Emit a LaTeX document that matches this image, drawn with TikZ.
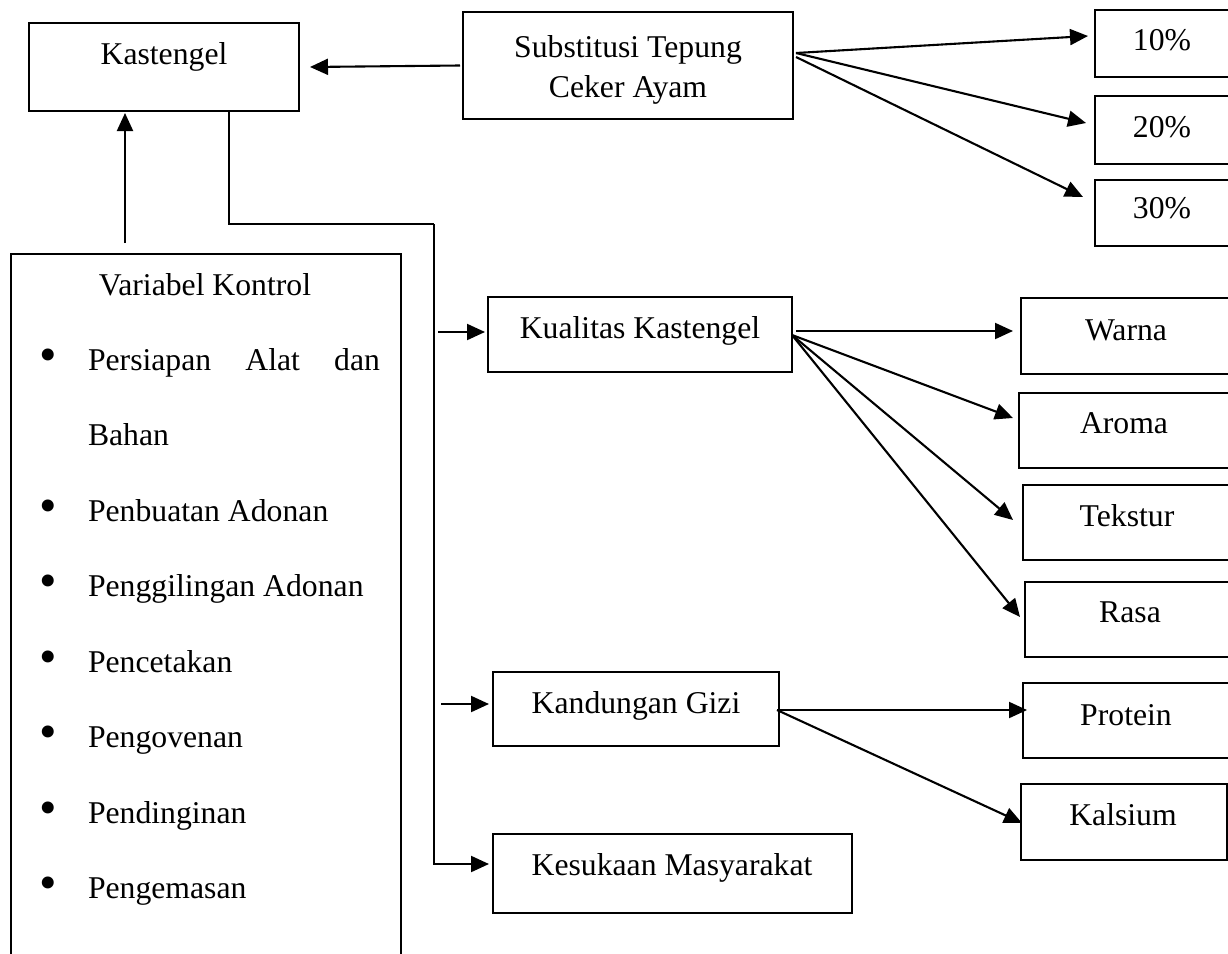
\documentclass[tikz,border=0pt]{standalone}
\usepackage{fontspec}
\setmainfont{Liberation Serif}
\usetikzlibrary{calc,arrows.meta}
\tikzset{
  box/.style={draw, line width=2.1pt, inner sep=0pt, outer sep=0pt, anchor=north west},
  lbl/.style={font=\fontsize{31.7}{38}\selectfont, inner sep=0pt, outer sep=0pt, anchor=base},
  itm/.style={lbl, anchor=base west},
  dot/.style={font=\fontsize{50}{50}\selectfont, inner sep=0pt, outer sep=0pt, anchor=center},
  wire/.style={line width=2.1pt},
  link/.style={line width=2.1pt, -{Triangle[length=18pt,width=16pt]}},
}
% empty rectangle given by its corners (x1,y1) and (x2,y2)
\newcommand\boxnode[5]{\node[box, minimum width={#4pt-#2pt}, minimum height={#5pt-#3pt}] (#1) at (#2,#3) {};}
\begin{document}
\begin{tikzpicture}[x=1pt,y=-1pt]
\path[use as bounding box, clip] (0,0) rectangle (1228,953);

% ---- boxes ----
\boxnode{kast}{29}{23}{299}{111}
\boxnode{subs}{463}{12}{793}{119}
\boxnode{p10}{1095}{10}{1240}{77}
\boxnode{p20}{1095}{96}{1240}{164}
\boxnode{p30}{1095}{180}{1240}{246}
\boxnode{vk}{11}{254}{401}{990}
\boxnode{kual}{488}{297}{792}{372}
\boxnode{warna}{1021}{298}{1240}{374}
\boxnode{aroma}{1019}{393}{1240}{468}
\boxnode{tekstur}{1023}{485}{1240}{560}
\boxnode{rasa}{1025}{582}{1240}{657}
\boxnode{kand}{493}{672}{779}{746}
\boxnode{protein}{1023}{683}{1240}{758}
\boxnode{kalsium}{1021}{784}{1227}{860}
\boxnode{kesuk}{493}{834}{852}{913}

% ---- labels ----
\node[lbl] (tkast) at (164,64) {Kastengel};
\node[lbl] (tsubs1) at (628,57) {Substitusi Tepung};
\node[lbl] (tsubs2) at (628,97) {Ceker Ayam};
\node[lbl] (t10) at (1162,50) {10\%};
\node[lbl] (t20) at (1162,137) {20\%};
\node[lbl] (t30) at (1162,218) {30\%};
\node[lbl] (tkual) at (640,338) {Kualitas Kastengel};
\node[lbl] (twarna) at (1126,340) {Warna};
\node[lbl] (taroma) at (1124,433) {Aroma};
\node[lbl] (ttekstur) at (1127,526) {Tekstur};
\node[lbl] (trasa) at (1130,622) {Rasa};
\node[lbl] (tkand) at (636,713) {Kandungan Gizi};
\node[lbl] (tprotein) at (1126,725) {Protein};
\node[lbl] (tkalsium) at (1123,825) {Kalsium};
\node[lbl] (tkesuk) at (672,875) {Kesukaan Masyarakat};

% ---- control variables list ----
\node[lbl] (tvk) at (205,295) {Variabel Kontrol};
\foreach \yy/\txt [count=\i] in {
    521/Penbuatan Adonan,
    596.5/Penggilingan Adonan,
    672/Pencetakan,
    747.5/Pengovenan,
    823/Pendinginan,
    898.5/Pengemasan}{
  \node[dot] (bul\i) at (48,\yy-10) {•};
  \node[itm] (item\i) at (88,\yy) {\txt};
}
\node[dot] (bul0) at (48,360) {•};
\node[itm] (item0a) at (88,370) {\makebox[292pt][s]{Persiapan Alat dan}};
\node[itm] (item0b) at (88,445.5) {Bahan};

% ---- connectors ----
\draw[link] ([xshift=-3pt]subs.west) -- ([xshift=11pt]kast.east);
\draw[link] ($(vk.north west)+(114,-11)$) -- ($(kast.south west)+(96,2)$);

\coordinate (bus) at (434,224);
\draw[wire] ($(kast.south west)+(200,1)$) |- (bus);
\draw[link] (bus) |- ($(kesuk.west)+(-4,-9.5)$);
\draw[link] ($(kual.west)+(-50,-2.5)$) -- ($(kual.west)+(-3,-2.5)$);
\draw[link] ($(kand.west)+(-52,-5)$) -- ($(kand.west)+(-4,-5)$);

\draw[link] ($(subs.east)+(3,-12.5)$) -- ($(p10.west)+(-7,-7.5)$);
\draw[link] ($(subs.east)+(3,-12.5)$) -- ($(p20.west)+(-9,-7)$);
\draw[link] ($(subs.east)+(3,-8.5)$) -- ($(p30.west)+(-12,-16)$);

\draw[link] ($(kual.east)+(4,-3.5)$) -- ($(warna.west)+(-8,-5)$);
\draw[link] ($(kual.east)+(0,0.5)$) -- ($(aroma.west)+(-6,-12.5)$);
\draw[link] ($(kual.east)+(0,0.5)$) -- ($(tekstur.west)+(-10,-2.5)$);
\draw[link] ($(kual.east)+(0,0.5)$) -- ($(rasa.west)+(-5,-2.5)$);

\draw[link] ($(kand.east)+(-2,1)$) -- ($(protein.west)+(4,-10.5)$);
\draw[link] ($(kand.east)+(-2,1)$) -- ($(kalsium.west)+(1,1)$);
\end{tikzpicture}
\end{document}
